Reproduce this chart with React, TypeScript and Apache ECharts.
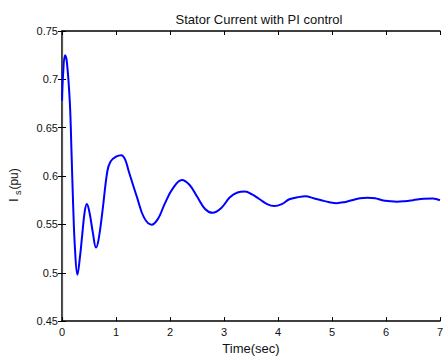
import React, { useEffect, useRef } from "react";
import * as echarts from "echarts";

const timeSec = [
  0, 0.02, 0.055, 0.09, 0.145, 0.176, 0.206, 0.24, 0.285, 0.33, 0.376, 0.42, 0.46, 0.51, 0.57, 0.63, 0.68,
  0.75, 0.84, 0.9, 1.0, 1.1, 1.17, 1.236, 1.39, 1.52, 1.66, 1.78, 1.9, 2.05, 2.22, 2.36, 2.51, 2.65, 2.79,
  2.95, 3.11, 3.25, 3.39, 3.52, 3.66, 3.8, 3.93, 4.07, 4.21, 4.36, 4.51, 4.66, 4.8, 4.95, 5.085, 5.23, 5.37,
  5.52, 5.66, 5.8, 5.93, 6.07, 6.2, 6.35, 6.5, 6.7, 6.87, 7.0,
];
const statorCurrent = [
  0.678, 0.705, 0.725, 0.718, 0.676, 0.625, 0.571, 0.525, 0.498, 0.515, 0.54, 0.563, 0.571, 0.562, 0.542,
  0.526, 0.535, 0.564, 0.605, 0.615, 0.62, 0.6215, 0.617, 0.605, 0.578, 0.557, 0.5497, 0.556, 0.571, 0.587,
  0.596, 0.591, 0.578, 0.566, 0.562, 0.567, 0.578, 0.583, 0.584, 0.581, 0.576, 0.571, 0.569, 0.571, 0.576,
  0.578, 0.579, 0.577, 0.575, 0.573, 0.572, 0.573, 0.575, 0.577, 0.5775, 0.577, 0.575, 0.574, 0.5735, 0.574,
  0.575, 0.5765, 0.5768, 0.575,
];

const FONT = "'Liberation Sans', Arial, sans-serif";

export default function App() {
  const ref = useRef<HTMLDivElement>(null);
  useEffect(() => {
    if (!ref.current) return;
    const chart = echarts.init(ref.current, null, { renderer: "svg" });
    const data = timeSec.map((t, i) => [t, statorCurrent[i]]);
    const axisLine = { show: true, lineStyle: { color: "#000", width: 1.5 } };
    const tick = { show: true, inside: true, length: 4, lineStyle: { color: "#000" } };
    chart.setOption({
      animation: false,
      backgroundColor: "#fff",
      textStyle: { fontFamily: FONT },
      title: {
        text: "Stator Current with PI control",
        left: 254,
        textAlign: "center",
        top: 8,
        textStyle: { fontSize: 13, fontWeight: "normal", color: "#111", fontFamily: FONT },
      },
      grid: { left: 62, right: 1, top: 31, bottom: 35 },
      xAxis: [
        {
          type: "value",
          min: 0,
          max: 7,
          interval: 1,
          position: "bottom",
          name: "Time(sec)",
          nameLocation: "middle",
          nameGap: 20,
          nameTextStyle: { fontSize: 13, color: "#111", fontFamily: FONT },
          axisLine,
          axisTick: tick,
          axisLabel: { fontSize: 11, color: "#111", margin: 5, fontFamily: FONT },
          splitLine: { show: false },
        },
        {
          type: "value",
          min: 0,
          max: 7,
          interval: 1,
          position: "top",
          axisLine,
          axisTick: tick,
          axisLabel: { show: false },
          splitLine: { show: false },
        },
      ],
      yAxis: [
        {
          type: "value",
          min: 0.45,
          max: 0.75,
          interval: 0.05,
          position: "left",
          axisLine,
          axisTick: tick,
          axisLabel: { fontSize: 11, color: "#111", margin: 4, fontFamily: FONT },
          splitLine: { show: false },
        },
        {
          type: "value",
          min: 0.45,
          max: 0.75,
          interval: 0.05,
          position: "right",
          axisLine: { show: true, lineStyle: { color: "#555", width: 1.2 } },
          axisTick: tick,
          axisLabel: { show: false },
          splitLine: { show: false },
        },
      ],
      graphic: [
        {
          type: "text",
          x: 14,
          y: 185,
          rotation: Math.PI / 2,
          style: {
            text: "{a|I }{b|s}{a|(pu)}",
            align: "center",
            verticalAlign: "middle",
            fill: "#111",
            rich: {
              a: { fontSize: 12, fontFamily: FONT, fill: "#111" },
              b: { fontSize: 9, fontFamily: FONT, fill: "#111", padding: [7, 1, 0, 0] },
            },
          },
        },
      ],
      series: [
        {
          type: "line",
          data,
          xAxisIndex: 0,
          yAxisIndex: 0,
          showSymbol: false,
          smooth: 0.4,
          lineStyle: { color: "#0000ff", width: 2 },
        },
      ],
    });
    return () => chart.dispose();
  }, []);
  return <div ref={ref} style={{ width: 446, height: 360, position: "absolute", left: 0, top: 0 }} />;
}
